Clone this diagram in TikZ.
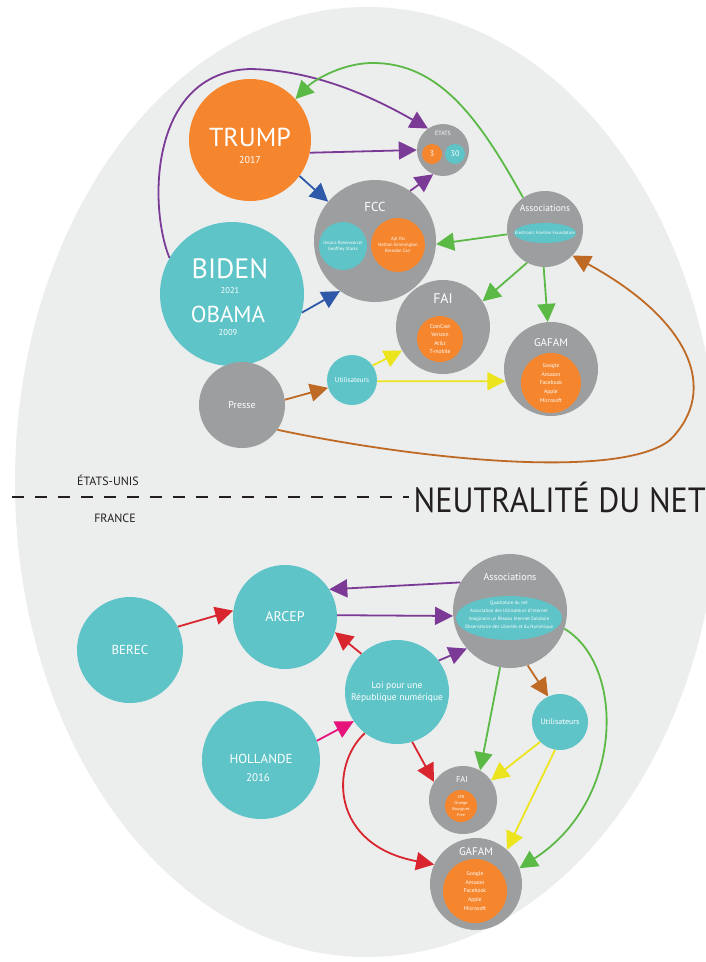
\documentclass[tikz,border=0pt]{standalone}
\usepackage{fontspec}
\setmainfont{PT Sans}
\usetikzlibrary{arrows.meta}
\definecolor{cOrange}{RGB}{245,134,45}
\definecolor{cTeal}{RGB}{94,196,200}
\definecolor{cGrey}{RGB}{156,158,159}
\definecolor{cBg}{RGB}{236,237,237}
\definecolor{cPurple}{RGB}{123,58,150}
\definecolor{cBlue}{RGB}{45,89,168}
\definecolor{cGreen}{RGB}{91,185,70}
\definecolor{cBrown}{RGB}{190,106,37}
\definecolor{cYellow}{RGB}{236,229,30}
\definecolor{cRed}{RGB}{217,38,46}
\definecolor{cPink}{RGB}{230,19,122}
\definecolor{cDark}{RGB}{35,31,32}
\newcommand{\fs}[1]{\fontsize{#1}{#1}\selectfont}
\begin{document}
\begin{tikzpicture}[x=1pt,y=-1pt,
  base/.style={circle,inner sep=0pt,text=white,align=center},
  tealc/.style={base,fill=cTeal},
  greyc/.style={base,fill=cGrey},
  orc/.style={base,fill=cOrange},
  txt/.style={inner sep=0pt,text=white,align=center},
  small/.style={txt,font=\fontsize{4.6}{6.2}\selectfont},
  arr/.style={line width=1.8pt,-{Triangle[length=18pt,width=18pt]}},
  lbl/.style={inner sep=0pt,text=cDark}]
\useasboundingbox (0,0) rectangle (706,962);
\fill[white] (0,0) rectangle (706,962);
\fill[cBg] (367,482) ellipse [x radius=352, y radius=475];

% ---------------- USA ----------------
\node[orc,minimum size=122pt] (trump) at (250,140) {};
\node[txt,font=\fs{26}] (trumpT) at (250,137) {TRUMP};
\node[txt,font=\fs{10}] (trumpY) at (250,160) {2017};

\node[tealc,minimum size=144pt] (biden) at (232,294) {};
\node[txt,font=\fs{28}] (bidenT) at (230,269) {BIDEN};
\node[txt,font=\fs{8.5}] (bidenY) at (230,291) {2021};
\node[txt,font=\fs{23}] (obamaT) at (228,314) {OBAMA};
\node[txt,font=\fs{8.5}] (obamaY) at (228,333) {2009};

\node[greyc,minimum size=52pt] (etats) at (443,150) {};
\node[txt,font=\fs{6}] (etatsT) at (443,133) {ÉTATS};
\node[orc,minimum size=20pt,font=\fs{8}] (etats3) at (432,154) {3};
\node[tealc,minimum size=20pt,font=\fs{8}] (etats30) at (455,154) {30};

\node[greyc,minimum size=122pt] (fcc) at (375,241) {};
\node[txt,font=\fs{13}] (fccT) at (375,207) {FCC};
\node[tealc,minimum size=48pt,font=\fontsize{4.6}{6.2}\selectfont] (fccD) at (343,246) {Jessica Rosenworcel\\Geoffrey Starks};
\node[orc,minimum size=54pt,font=\fontsize{4.6}{6.2}\selectfont] (fccR) at (398,245) {Ajit Pai\\Nathan Simmington\\Brendan Carr};

\node[greyc,minimum size=76pt] (assocus) at (545,229) {};
\node[txt,font=\fs{9.5}] (assocusT) at (545,208) {Associations};
\fill[cTeal] (545,233) ellipse [x radius=31, y radius=10];
\node[small] (eff) at (545,233) {Electronic Frontier Foundation};

\node[greyc,minimum size=94pt] (faius) at (443,327) {};
\node[txt,font=\fs{14}] (faiusT) at (443,299) {FAI};
\node[orc,minimum size=46pt,font=\fontsize{5.5}{8.3}\selectfont] (faiusL) at (440,339) {ComCast\\Verizon\\At\&t\\T-mobile};

\node[greyc,minimum size=94pt] (gafamus) at (551,369) {};
\node[txt,font=\fs{11}] (gafamusT) at (551,343) {GAFAM};
\node[orc,minimum size=60pt,font=\fontsize{5.5}{8.8}\selectfont] (gafamusL) at (551,383) {Google\\Amazon\\Facebook\\Apple\\Microsoft};

\node[tealc,minimum size=50pt,font=\fs{7}] (utilus) at (352,380) {Utilisateurs};
\node[greyc,minimum size=86pt,font=\fs{10}] (presse) at (242,405) {Presse};

% US connectors
\draw[arr,cPurple] (biden.150) .. controls (148,205) and (150,72) .. (250,69)
   .. controls (318,70) and (378,100) .. (etats.125);
\draw[arr,cGreen] (assocus.125) .. controls (480,120) and (440,63) .. (373,63)
   .. controls (340,63) and (312,82) .. (trump.42);
\draw[arr,cPurple] (trump.-12) -- (etats.180);
\draw[arr,cBlue] (trump.-36) -- (fcc.140);
\draw[arr,cPurple] (fcc.55) -- (etats.-112);
\draw[arr,cBlue] (biden.-15) -- (fcc.-125);
\draw[arr,cGreen] (assocus.188) -- (fcc.-3);
\draw[arr,cGreen] (assocus.-118) -- (faius.33);
\draw[arr,cGreen] (assocus.-92) -- (gafamus.94);
\draw[arr,cBrown] (presse.7) -- (utilus.198);
\draw[arr,cYellow] (utilus.35) -- (faius.210);
\draw[arr,cYellow] (utilus.-3) -- (gafamus.195);
\draw[arr,cBrown] (presse.-35) .. controls (420,460) and (620,480) .. (670,440)
   .. controls (720,390) and (690,320) .. (assocus.-44);

% ---------------- divider ----------------
\node[lbl,font=\fs{12}] (usa) at (108,480) {ÉTATS-UNIS};
\node[lbl,font=\fs{12}] (fr) at (115,518) {FRANCE};
\node[lbl,font=\fs{35},anchor=east] (title) at (706,497) {\scalebox{0.92}[1]{NEUTRALITÉ DU NET}};
\coordinate (dashL) at (12,497);
\draw[cDark,line width=1.3pt,dash pattern=on 12pt off 11pt] (dashL) -- ([xshift=-4pt]title.west);

% ---------------- FRANCE ----------------
\node[tealc,minimum size=106pt,font=\fs{13}] (berec) at (130,650) {BEREC};
\node[tealc,minimum size=104pt,font=\fs{14}] (arcep) at (285,617) {ARCEP};
\node[greyc,minimum size=114pt] (assocfr) at (510,611) {};
\node[txt,font=\fs{10}] (assocfrT) at (510,577) {Associations};
\fill[cTeal] (509,618) ellipse [x radius=53, y radius=22];
\node[small,font=\fontsize{4.8}{8}\selectfont] (assocfrL) at (509,615) {Quadrature du net\\Association des Utilisateurs d'Internet\\Imaginons un Réseau Internet Solidaire\\Observatoire des Libertés et du Numérique};
\node[tealc,minimum size=104pt,font=\fontsize{9.5}{12}\selectfont] (loi) at (397,692) {Loi pour une\\République numérique};
\node[tealc,minimum size=118pt] (hollande) at (261,760) {};
\node[txt,font=\fs{13}] (hollT) at (261,759) {HOLLANDE};
\node[txt,font=\fs{11}] (hollY) at (258,778) {2016};
\node[tealc,minimum size=56pt,font=\fs{8}] (utilfr) at (560,722) {Utilisateurs};

\node[greyc,minimum size=68pt] (faifr) at (463,800) {};
\node[txt,font=\fs{8.5}] (faifrT) at (462,779) {FAI};
\node[orc,minimum size=32pt,font=\fontsize{4.2}{6.3}\selectfont] (faifrL) at (461,806) {SFR\\Orange\\Bouygues\\Free};

\node[greyc,minimum size=92pt] (gafamfr) at (476,884) {};
\node[txt,font=\fs{11}] (gafamfrT) at (476,852) {GAFAM};
\node[orc,minimum size=64pt,font=\fontsize{5.5}{8.8}\selectfont] (gafamfrL) at (475,891) {Google\\Amazon\\Facebook\\Apple\\Microsoft};

% France connectors
\draw[arr,cRed] (berec.26) -- (arcep.173);
\draw[arr,cPurple] (assocfr.150) -- (arcep.32);
\draw[arr,cPurple] (arcep.2) -- (assocfr.185);
\draw[arr,cRed] (loi.133) -- (arcep.-17);
\draw[arr,cPurple] (loi.37) -- (assocfr.221);
\draw[arr,cPink] (hollande.19) -- (loi.214);
\draw[arr,cRed] (loi.-73) -- (faifr.148);
\draw[arr,cRed] (loi.-128) .. controls (330,765) and (330,845) .. (gafamfr.155);
\draw[arr,cGreen] (assocfr.-100) -- (faifr.60);
\draw[arr,cBrown] (assocfr.-72) -- (utilfr.115);
\draw[arr,cGreen] (assocfr.-18) .. controls (625,665) and (625,800) .. (gafamfr.20);
\draw[arr,cYellow] (utilfr.225) -- (faifr.35);
\draw[arr,cYellow] (utilfr.-100) -- (gafamfr.48);
\end{tikzpicture}
\end{document}
